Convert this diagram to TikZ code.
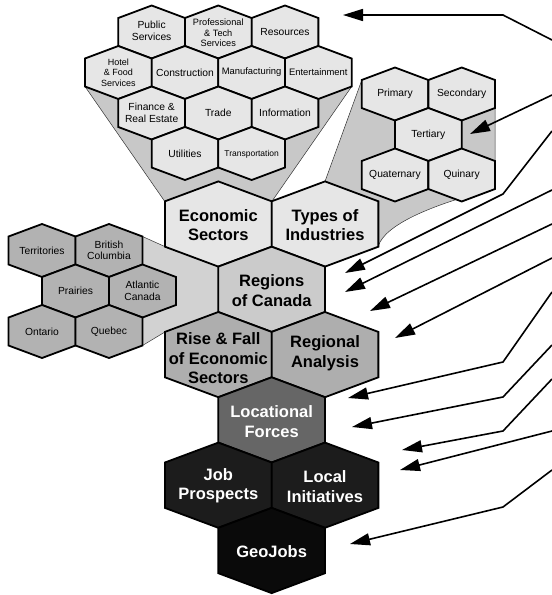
\documentclass[tikz,border=0pt]{standalone}
\usepackage{fontspec}
\setmainfont{Liberation Sans}
\usepackage{tikz}
\usetikzlibrary{calc,arrows.meta}

\definecolor{hexlight}{HTML}{E6E6E6}
\definecolor{funnelgray}{HTML}{C8C8C8}
\definecolor{funnelleft}{HTML}{D2D2D2}
\definecolor{regiongray}{HTML}{B2B2B2}
\definecolor{canadagray}{HTML}{CBCBCB}
\definecolor{risegray}{HTML}{AEAEAE}
\definecolor{forcegray}{HTML}{666666}
\definecolor{jobgray}{HTML}{1C1C1C}
\definecolor{geoblack}{HTML}{0A0A0A}

\begin{document}
\begin{tikzpicture}[x=1pt,y=-1pt]
			\tikzset{
			    big hex/.style={insert path={++(0,-42.6) -- ++(53.35,19.9) -- ++(0,45.4) -- ++(-53.35,19.9) -- ++(-53.35,-19.9) -- ++(0,-45.4) -- cycle}},
			    small hex/.style={insert path={++(0,-26.5) -- ++(#1,12.5) -- ++(0,28) -- ++(-#1,12.5) -- ++(-#1,-12.5) -- ++(0,-28) -- cycle}},
			    small hex/.default=33.35,
			    hex line/.style={draw=black,line width=1.8pt,line join=miter},
			    funnel line/.style={draw=black!80,line width=0.5pt},
			    big label/.style={font=\bfseries\fontsize{16.5}{19.5}\selectfont,align=center},
			    small label/.style={font=\fontsize{10.3}{11.5}\selectfont,align=center},
			    arr/.style={line width=1.6pt,line join=miter,-{Triangle[length=20pt,width=12pt]}}
			}
			\useasboundingbox (0,0) rectangle (552,595);

			% funnels behind the clusters
			\draw[funnel line,fill=funnelgray] (85,86.5) -- (351.7,86.5) -- (271.65,201.7) -- (164.95,201.7) -- cycle;
			\draw[funnel line,fill=funnelgray] (361.65,80.5) -- (495,80.5) -- (495,188.5) .. controls (430,205) and (385,225) .. (378.3,246) -- (378.3,201.7) -- (325,181.4) -- cycle;
			\draw[funnel line,fill=funnelleft] (142.5,236.5) -- (164.95,246.6) -- (218.3,266.5) -- (218.3,311.9) -- (164.95,332) -- (142.5,345.5) -- cycle;

			% economic sectors
			\draw[hex line,fill=hexlight] (151.65,32) [small hex];
			\draw[hex line,fill=hexlight] (218.3,32) [small hex];
			\draw[hex line,fill=hexlight] (285,32) [small hex];
			\draw[hex line,fill=hexlight] (118.3,72.5) [small hex];
			\draw[hex line,fill=hexlight] (185,72.5) [small hex];
			\draw[hex line,fill=hexlight] (251.65,72.5) [small hex];
			\draw[hex line,fill=hexlight] (318.3,72.5) [small hex];
			\draw[hex line,fill=hexlight] (151.65,113) [small hex];
			\draw[hex line,fill=hexlight] (218.3,113) [small hex];
			\draw[hex line,fill=hexlight] (285,113) [small hex];
			\draw[hex line,fill=hexlight] (185,153.5) [small hex];
			\draw[hex line,fill=hexlight] (251.65,153.5) [small hex];
			\node[small label] (public) at (151.65,31) {Public\\Services};
			\node[small label,font=\fontsize{9.2}{10.6}\selectfont] (professional) at (218.3,33) {Professional\\\& Tech\\Services};
			\node[small label] (resources) at (285,32) {Resources};
			\node[small label,font=\fontsize{9}{10.5}\selectfont] (hotel) at (118.3,72.5) {Hotel\\\& Food\\Services};
			\node[small label] (construction) at (185,72.5) {Construction};
			\node[small label,font=\fontsize{9.4}{11}\selectfont] (manufacturing) at (251.65,72.5) {Manufacturing};
			\node[small label,font=\fontsize{9.4}{11}\selectfont] (entertainment) at (318.3,72.5) {Entertainment};
			\node[small label] (finance) at (151.65,113) {Finance \&\\Real Estate};
			\node[small label] (trade) at (218.3,113) {Trade};
			\node[small label] (information) at (285,113) {Information};
			\node[small label] (utilities) at (185,154) {Utilities};
			\node[small label,font=\fontsize{8.5}{10}\selectfont] (transportation) at (251.65,154) {Transportation};

			% types of industries
			\draw[hex line,fill=hexlight] (395,94) [small hex];
			\draw[hex line,fill=hexlight] (461.7,94) [small hex];
			\draw[hex line,fill=hexlight] (428.35,134.5) [small hex];
			\draw[hex line,fill=hexlight] (395,175) [small hex];
			\draw[hex line,fill=hexlight] (461.7,175) [small hex];
			\node[small label] (primary) at (395,94) {Primary};
			\node[small label] (secondary) at (461.7,94) {Secondary};
			\node[small label] (tertiary) at (428.35,134.5) {Tertiary};
			\node[small label] (quaternary) at (395,175) {Quaternary};
			\node[small label] (quinary) at (461.7,175) {Quinary};

			% regions
			\draw[hex line,fill=regiongray] (42,250.5) [small hex=33.5];
			\draw[hex line,fill=regiongray] (109,250.5) [small hex=33.5];
			\draw[hex line,fill=regiongray] (75.5,291) [small hex=33.5];
			\draw[hex line,fill=regiongray] (142.5,291) [small hex=33.5];
			\draw[hex line,fill=regiongray] (42,331.5) [small hex=33.5];
			\draw[hex line,fill=regiongray] (109,331.5) [small hex=33.5];
			\node[small label] (territories) at (42,250.5) {Territories};
			\node[small label] (bc) at (109,250.5) {British\\Columbia};
			\node[small label] (prairies) at (75.5,291) {Prairies};
			\node[small label] (atlantic) at (142.5,291) {Atlantic\\Canada};
			\node[small label] (ontario) at (42,331.5) {Ontario};
			\node[small label] (quebec) at (109,331.5) {Quebec};

			% main column
			\draw[hex line,fill=hexlight] (218.3,224) [big hex];
			\draw[hex line,fill=hexlight] (325,224) [big hex];
			\draw[hex line,fill=canadagray] (271.65,289.3) [big hex];
			\draw[hex line,fill=risegray] (218.3,354.6) [big hex];
			\draw[hex line,fill=risegray] (325,354.6) [big hex];
			\draw[hex line,fill=forcegray] (271.65,419.9) [big hex];
			\draw[hex line,fill=jobgray] (218.3,485.2) [big hex];
			\draw[hex line,fill=jobgray] (325,485.2) [big hex];
			\draw[hex line,fill=geoblack] (271.65,550.5) [big hex];
			\node[big label] (econ) at (218.3,225) {Economic\\Sectors};
			\node[big label] (types) at (325,225) {Types of\\Industries};
			\node[big label] (canada) at (271.65,290.5) {Regions\\of Canada};
			\node[big label] (rise) at (218.3,358.5) {Rise \& Fall\\of Economic\\Sectors};
			\node[big label] (analysis) at (325,353) {Regional\\Analysis};
			\node[big label,text=white] (forces) at (271.65,421.5) {Locational\\Forces};
			\node[big label,text=white] (prospects) at (218.3,485.5) {Job\\Prospects};
			\node[big label,text=white] (initiatives) at (325,486.5) {Local\\Initiatives};
			\node[big label,text=white] (geojobs) at (271.65,551.5) {GeoJobs};

			% arrows from the right
			\coordinate (s1) at (552,40);   \coordinate (e1) at (503,15);  \coordinate (t1) at (343,15);
			\coordinate (s2) at (552,95);   \coordinate (t2) at (470,134);
			\coordinate (s3) at (552,131);  \coordinate (e3) at (503,194); \coordinate (t3) at (345,273);
			\coordinate (s4) at (552,190);  \coordinate (t4) at (345,292);
			\coordinate (s5) at (552,224);  \coordinate (t5) at (370,311);
			\coordinate (s6) at (552,258);  \coordinate (t6) at (395,338);
			\coordinate (s7) at (552,292);  \coordinate (e7) at (503,362); \coordinate (t7) at (348,398);
			\coordinate (s8) at (552,345);  \coordinate (e8) at (503,397); \coordinate (t8) at (352,427);
			\coordinate (s9) at (552,379);  \coordinate (e9) at (503,431); \coordinate (t9) at (402,450);
			\coordinate (s10) at (552,431); \coordinate (t10) at (400,470);
			\coordinate (s11) at (552,470); \coordinate (e11) at (503,507); \coordinate (t11) at (350,544);
			\draw[arr] (s1) -- (e1) -- (t1);
			\draw[arr] (s2) -- (t2);
			\draw[arr] (s3) -- (e3) -- (t3);
			\draw[arr] (s4) -- (t4);
			\draw[arr] (s5) -- (t5);
			\draw[arr] (s6) -- (t6);
			\draw[arr] (s7) -- (e7) -- (t7);
			\draw[arr] (s8) -- (e8) -- (t8);
			\draw[arr] (s9) -- (e9) -- (t9);
			\draw[arr] (s10) -- (t10);
			\draw[arr] (s11) -- (e11) -- (t11);
\end{tikzpicture}
\end{document}
